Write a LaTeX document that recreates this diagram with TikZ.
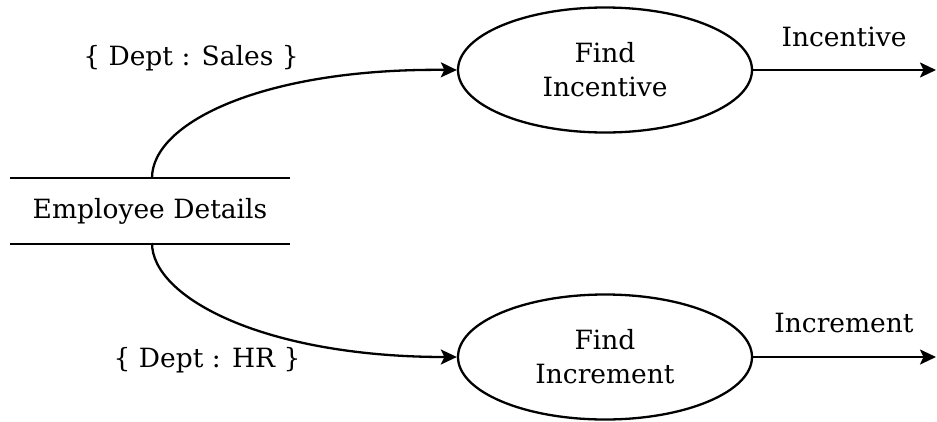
\documentclass[tikz,border=0pt]{standalone}
\usepackage{fontspec}
\setmainfont{DejaVu Serif}
\usetikzlibrary{arrows.meta,shapes.geometric}
\begin{document}
\begin{tikzpicture}[x=1pt,y=1pt,
  txt/.style={font=\fontsize{26.5}{34}\selectfont},
  proc/.style={ellipse,draw,line width=2.3pt,minimum width=294pt,minimum height=125pt,inner sep=0pt,align=center,txt},
  flow/.style={line width=2.3pt,-{Stealth[length=16pt,width=15pt,inset=3.5pt]}},
  storebox/.style={minimum width=280pt,minimum height=65pt,inner sep=0pt,txt}]
\useasboundingbox (0,0) rectangle (937,-421);
\node[storebox] (store) at (150,-211) {Employee Details};
\draw[line width=2.3pt] (store.north west) -- (store.north east);
\draw[line width=2.3pt] (store.south west) -- (store.south east);
\node[proc] (inc) at (605,-70) {Find\\Incentive};
\node[proc] (incr) at (605,-357) {Find\\Increment};
\coordinate (o1) at (936,-70);
\coordinate (o2) at (936,-357);
\coordinate (s1) at (152,-178);
\coordinate (s2) at (152,-243);
\draw[flow] (s1) .. controls (152,-122) and (265,-68) .. (inc.west);
\draw[flow] (s2) .. controls (152,-298) and (265,-357) .. (incr.west);
\draw[flow] (inc.east) -- (o1);
\draw[flow] (incr.east) -- (o2);
\node[txt] (l1) at (191,-58) {\{ Dept : Sales \}};
\node[txt] (l2) at (207,-360) {\{ Dept : HR \}};
\node[txt] (l3) at (844,-37) {Incentive};
\node[txt] (l4) at (844,-323) {Increment};
\end{tikzpicture}
\end{document}
